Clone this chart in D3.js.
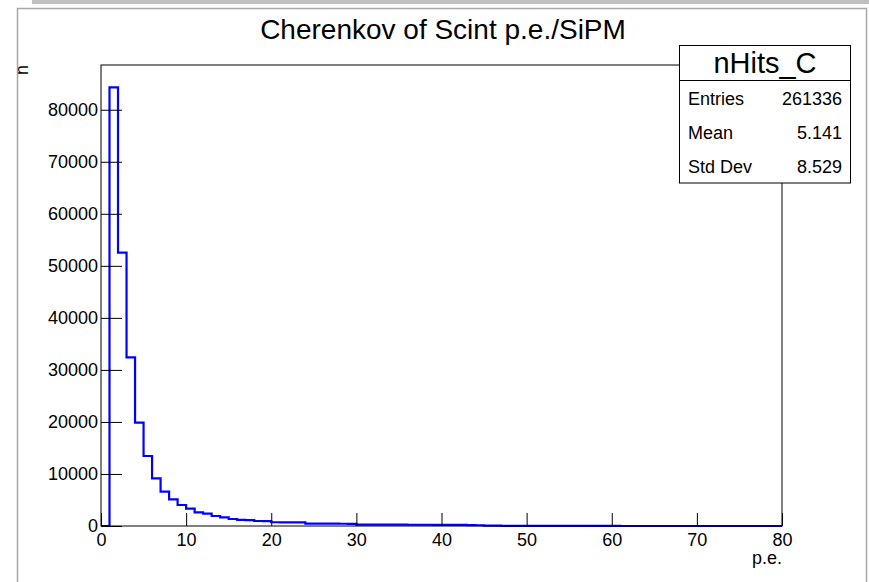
<html>
<script src="https://d3js.org/d3.v7.min.js"></script>
<meta charset="UTF-8">
<style>
    body { margin: 0; background: #fff; }
    text { font-family: "Liberation Sans", Arial, sans-serif; fill: #000; }
</style>
<body>
<svg width="869" height="582" id="canvas"></svg>
</body>
<script>
    // bin contents of nHits_C, one entry per bin of width 1 from 0 to 80
    var binEdges = d3.range(0, 81);
    var counts = [
        0, 84300, 52530, 32420, 19850, 13450, 9170, 6590, 5130, 4040,
        3330, 2630, 2360, 1920, 1670, 1350, 1160, 1140, 960, 940,
        720, 700, 690, 680, 470, 460, 450, 440, 430, 420,
        270, 260, 260, 250, 250, 250, 240, 240, 240, 230,
        230, 220, 210, 150, 140, 90, 85, 40, 35, 30,
        25, 22, 20, 18, 15, 12, 10, 8, 8, 6,
        5, 4, 4, 3, 3, 2, 2, 2, 1, 1,
        1, 1, 0, 0, 0, 0, 0, 0, 0, 0
    ];
    var xTicks = [0, 10, 20, 30, 40, 50, 60, 70, 80];
    var yTicks = [0, 10000, 20000, 30000, 40000, 50000, 60000, 70000, 80000];
    var statNames = ["Entries", "Mean", "Std Dev"];
    var statValues = ["261336", "5.141", "8.529"];

    var svg = d3.select("#canvas");

    var frameL = 101, frameR = 782, frameT = 65, frameB = 526;

    var x = d3.scaleLinear().domain([0, 80]).range([frameL, frameR]);
    var y = d3.scaleLinear().domain([0, 88600]).range([frameB, frameT]);

    // canvas decoration
    svg.append("rect").attr("x", 32).attr("y", 0).attr("width", 837).attr("height", 4).attr("fill", "#c0c0c0");
    svg.append("path")
        .attr("d", "M17.5,582 V8.5 H866.5 V582")
        .attr("fill", "none").attr("stroke", "#a8a8a8").attr("stroke-width", 1.5);

    // title
    svg.append("text")
        .attr("x", 443).attr("y", 39)
        .attr("text-anchor", "middle")
        .style("font-size", "28px")
        .text("Cherenkov of Scint p.e./SiPM");

    // histogram outline
    var pts = [[x(0), y(0)]];
    counts.forEach(function (c, i) {
        pts.push([x(binEdges[i]), y(c)]);
        pts.push([x(binEdges[i + 1]), y(c)]);
    });
    svg.append("path")
        .attr("d", d3.line()(pts))
        .attr("fill", "none")
        .attr("stroke", "#0000ff")
        .attr("stroke-width", 2.2);

    // frame
    svg.append("rect")
        .attr("x", frameL).attr("y", frameT)
        .attr("width", frameR - frameL).attr("height", frameB - frameT)
        .attr("fill", "none").attr("stroke", "#000").attr("stroke-width", 1);

    // x axis: major + minor ticks pointing inward
    var gx = svg.append("g").attr("transform", "translate(0," + frameB + ")");
    gx.call(d3.axisBottom(x).tickValues(d3.range(0, 81, 2)).tickSize(-7).tickFormat(""));
    gx.call(d3.axisBottom(x).tickValues(xTicks).tickSize(-13).tickPadding(7).tickFormat(d3.format("d")));
    gx.select(".domain").remove();
    gx.selectAll("line").attr("stroke", "#000");
    gx.selectAll("text").style("font-size", "18px").attr("font-family", null);

    svg.append("text")
        .attr("x", frameR).attr("y", 564)
        .attr("text-anchor", "end")
        .style("font-size", "18px")
        .text("p.e.");

    // y axis
    var gy = svg.append("g").attr("transform", "translate(" + frameL + ",0)");
    gy.call(d3.axisLeft(y).tickValues(d3.range(0, 88001, 2000)).tickSize(-10).tickFormat(""));
    gy.call(d3.axisLeft(y).tickValues(yTicks).tickSize(-21).tickPadding(3).tickFormat(d3.format("d")));
    gy.select(".domain").remove();
    gy.selectAll("line").attr("stroke", "#000");
    gy.selectAll("text").style("font-size", "18px").attr("font-family", null);

    svg.append("text")
        .attr("transform", "translate(28," + frameT + ") rotate(-90)")
        .attr("text-anchor", "end")
        .style("font-size", "18px")
        .text("n");

    // stats box
    var sb = svg.append("g");
    sb.append("rect")
        .attr("x", 679.5).attr("y", 45.5).attr("width", 171).attr("height", 137.5)
        .attr("fill", "#fff").attr("stroke", "#000").attr("stroke-width", 1);
    sb.append("line")
        .attr("x1", 679.5).attr("x2", 850.5).attr("y1", 80.5).attr("y2", 80.5)
        .attr("stroke", "#000");
    sb.append("text")
        .attr("x", 765).attr("y", 73)
        .attr("text-anchor", "middle")
        .style("font-size", "29px")
        .text("nHits_C");
    statNames.forEach(function (n, i) {
        sb.append("text").attr("x", 688).attr("y", 105 + i * 34.2)
            .style("font-size", "18px").text(n);
        sb.append("text").attr("x", 842).attr("y", 105 + i * 34.2)
            .attr("text-anchor", "end")
            .style("font-size", "18px").text(statValues[i]);
    });
</script>
</html>
